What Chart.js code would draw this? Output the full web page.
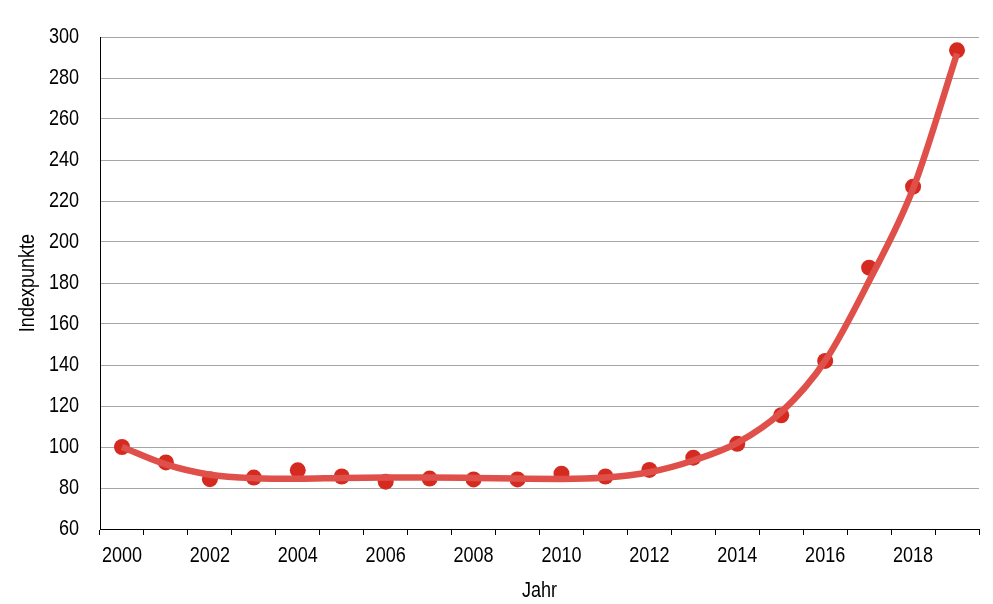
<!DOCTYPE html>
<html>
<head>
<meta charset="utf-8">
<script src="https://cdn.jsdelivr.net/npm/chart.js@4/dist/chart.umd.min.js"></script>
<style>
  html, body { margin: 0; padding: 0; background: #fff; }
  #wrap { width: 993px; height: 604px; position: relative; }
</style>
</head>
<body>
<div id="wrap"><canvas id="c" width="993" height="604"></canvas></div>
<script>
const years = ['2000','2001','2002','2003','2004','2005','2006','2007','2008','2009',
               '2010','2011','2012','2013','2014','2015','2016','2017','2018','2019'];
const indexValues = [100, 92.5, 84.3, 85.1, 88.6, 85.6, 83.1, 84.6, 84.2, 84.2,
                     87, 85.6, 88.8, 94.8, 101.6, 115.5, 142, 187.5, 227, 293.5];
const trendValues = [100, 91.5, 86.5, 84.8, 84.5, 84.9, 85.1, 85.1, 84.9, 84.6,
                     84.4, 85.1, 87.7, 93.4, 102, 117, 142, 181, 226, 292];
const yTicks = { min: 60, max: 300, step: 20 };
const xTitle = 'Jahr';
const yTitle = 'Indexpunkte';

const FONT = '"Liberation Sans", Arial, sans-serif';
const NARROW = 0.82; // horizontal squeeze to mimic a narrow sans face

// Draw all chart text horizontally condensed (around its anchor point)
const narrowText = {
  id: 'narrowText',
  beforeDraw(chart) {
    const ctx = chart.ctx;
    if (ctx._origFillText) return;
    ctx._origFillText = ctx.fillText;
    ctx.fillText = function(text, x, y, maxWidth) {
      this.save();
      this.translate(x, y);
      this.scale(NARROW, 1);
      if (maxWidth !== undefined) this._origFillText(text, 0, 0, maxWidth / NARROW);
      else this._origFillText(text, 0, 0);
      this.restore();
    };
  }
};

new Chart(document.getElementById('c'), {
  type: 'line',
  plugins: [narrowText],
  data: {
    labels: years,
    datasets: [
      {
        label: 'Trend',
        data: trendValues,
        borderColor: 'rgba(224, 80, 74, 1)',
        borderWidth: 6.5,
        pointRadius: 0,
        cubicInterpolationMode: 'monotone',
        fill: false,
        order: 0
      },
      {
        label: 'Index',
        data: indexValues,
        showLine: false,
        pointRadius: 8,
        pointBackgroundColor: '#d42a20',
        pointBorderColor: '#d42a20',
        pointBorderWidth: 0,
        order: 1
      }
    ]
  },
  options: {
    responsive: false,
    animation: false,
    devicePixelRatio: 1,
    layout: { padding: { top: 37, right: 14, left: 0, bottom: 0 } },
    plugins: { legend: { display: false }, tooltip: { enabled: false } },
    scales: {
      x: {
        type: 'category',
        offset: true,
        grid: {
          offset: true,
          drawOnChartArea: false,
          drawTicks: true,
          tickLength: 6,
          color: '#000',
          lineWidth: 1
        },
        border: { display: true, color: '#000', width: 1 },
        ticks: {
          autoSkip: false,
          maxRotation: 0,
          minRotation: 0,
          padding: 8,
          color: '#000',
          font: { family: FONT, size: 22 },
          callback: function(v, i) { return i % 2 === 0 ? years[i] : ''; }
        },
        title: {
          display: true,
          text: xTitle,
          color: '#000',
          font: { family: FONT, size: 22 },
          padding: { top: 0, bottom: 0 }
        },
        afterFit: function(s) { s.height = 75; }
      },
      y: {
        min: yTicks.min,
        max: yTicks.max,
        grid: {
          color: '#a6a6a6',
          lineWidth: 1,
          drawTicks: false
        },
        border: { display: true, color: '#000', width: 1 },
        ticks: {
          stepSize: yTicks.step,
          padding: 21,
          color: '#000',
          font: { family: FONT, size: 22 }
        },
        title: {
          display: true,
          text: yTitle,
          color: '#000',
          font: { family: FONT, size: 22 },
          padding: { top: 15, bottom: 0 }
        },
        afterFit: function(s) { s.width = 100; }
      }
    }
  }
});
</script>
</body>
</html>
